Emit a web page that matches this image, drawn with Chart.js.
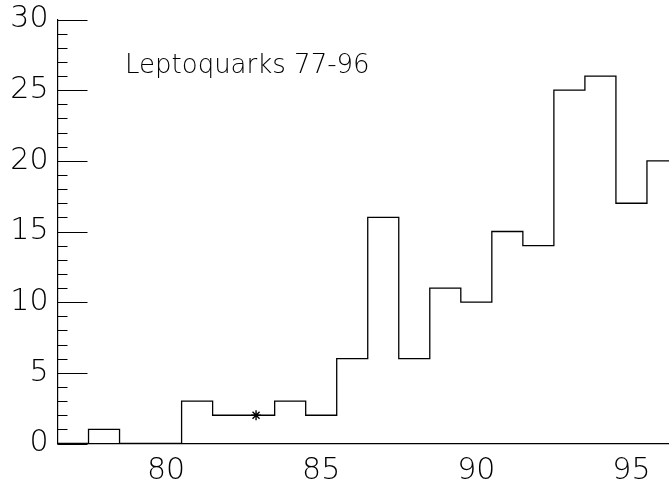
<!DOCTYPE html>
<html>
<head>
<meta charset="utf-8">
<script src="https://cdn.jsdelivr.net/npm/chart.js@4/dist/chart.umd.min.js"></script>
<style>
  html, body { margin: 0; padding: 0; background: #fff; overflow: hidden; }
  canvas { display: block; }
</style>
</head>
<body>
<canvas id="lepto-chart" width="676" height="484"></canvas>
<script>
// one bin per year, centred on the year
const years = [77, 78, 79, 80, 81, 82, 83, 84, 85, 86, 87, 88, 89, 90, 91, 92, 93, 94, 95, 96];
const counts = [0, 1, 0, 0, 3, 2, 2, 3, 2, 6, 16, 6, 11, 10, 15, 14, 25, 26, 17, 20];
const markerPoints = [{ x: 82.9, y: 2 }];
const xTickValues = [80, 85, 90, 95];
const yTickValues = [0, 5, 10, 15, 20, 25, 30];
const titleText = 'Leptoquarks 77-96';

const FONT = '"DejaVu Sans", "Liberation Sans", sans-serif';

// bin left edges + closing edge, drawn as a stepped line
const histPoints = years.map((y, i) => ({ x: y - 0.5, y: counts[i] }));
histPoints.push({ x: years[years.length - 1] + 0.5, y: counts[counts.length - 1] });

// y axis ticks pointing into the plot, long every 5, short every 1
const innerTicks = {
    id: 'innerTicks',
    afterDraw(chart) {
        const ctx = chart.ctx;
        const ys = chart.scales.y;
        ctx.save();
        ctx.strokeStyle = '#000';
        ctx.lineWidth = 1.2;
        ctx.beginPath();
        for (let v = ys.min; v <= ys.max; v++) {
            const py = Math.round(ys.getPixelForValue(v)) + 0.5;
            const len = v % 5 === 0 ? 30 : 10;
            ctx.moveTo(ys.right, py);
            ctx.lineTo(ys.right + len, py);
        }
        ctx.stroke();
        ctx.restore();
    }
};

const titleLabel = {
    id: 'titleLabel',
    afterDraw(chart) {
        const ctx = chart.ctx;
        ctx.save();
        ctx.fillStyle = '#000';
        ctx.font = '200 26px ' + FONT;
        ctx.textBaseline = 'alphabetic';
        ctx.fillText(titleText, 125, 73);
        ctx.restore();
    }
};

const noEdgePadding = (scale) => {
    scale.paddingLeft = 0;
    scale.paddingRight = 0;
    scale.paddingTop = 0;
    scale.paddingBottom = 0;
};

const ctx = document.getElementById('lepto-chart').getContext('2d');

new Chart(ctx, {
    type: 'line',
    data: {
        datasets: [
            {
                label: 'counts',
                data: histPoints,
                stepped: 'before',
                borderColor: '#000',
                borderWidth: 1.3,
                pointRadius: 0,
                fill: false
            },
            {
                type: 'scatter',
                label: 'marker',
                data: markerPoints,
                pointStyle: 'star',
                pointRadius: 5,
                borderColor: '#000',
                borderWidth: 1.4,
                backgroundColor: '#000',
                showLine: false
            }
        ]
    },
    options: {
        responsive: false,
        animation: false,
        layout: { padding: { top: 19.5, left: 0, right: 0, bottom: 0 } },
        plugins: {
            legend: { display: false },
            tooltip: { enabled: false },
            title: { display: false }
        },
        scales: {
            x: {
                type: 'linear',
                min: 76.5,
                max: 96.23,
                afterBuildTicks: (scale) => {
                    scale.ticks = xTickValues.map(v => ({ value: v }));
                },
                afterFit: (scale) => {
                    scale.height = 40.5;
                    noEdgePadding(scale);
                },
                grid: { display: false, drawTicks: false },
                border: { display: true, color: '#000', width: 1.2 },
                ticks: {
                    color: '#000',
                    padding: 10,
                    maxRotation: 0,
                    font: { family: FONT, size: 30, weight: 200 }
                }
            },
            y: {
                min: 0,
                max: 30,
                afterBuildTicks: (scale) => {
                    scale.ticks = yTickValues.map(v => ({ value: v }));
                },
                afterFit: (scale) => {
                    scale.width = 57.5;
                    noEdgePadding(scale);
                },
                grid: { display: false, drawTicks: false },
                border: { display: true, color: '#000', width: 1.2 },
                ticks: {
                    color: '#000',
                    padding: 9,
                    font: { family: FONT, size: 30, weight: 200 }
                }
            }
        }
    },
    plugins: [innerTicks, titleLabel]
});
</script>
</body>
</html>
